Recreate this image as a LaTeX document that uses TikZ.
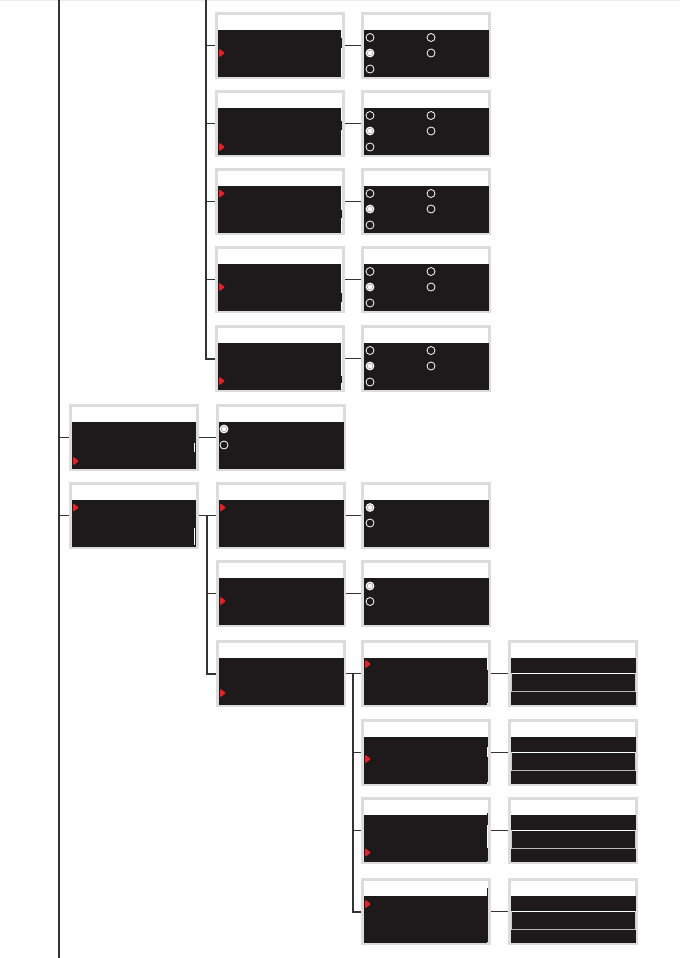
\documentclass[tikz,border=0pt]{standalone}
\definecolor{dk}{HTML}{1E1A1B}
\definecolor{fr}{HTML}{DCDCDC}
\definecolor{ln}{HTML}{333333}
\definecolor{mkred}{HTML}{E3212B}
\definecolor{topline}{HTML}{EBEBEB}
\tikzset{
  framebox/.style={rectangle, draw=fr, fill=white, line width=3pt, minimum height=64pt, inner sep=0pt, outer sep=1.5pt},
  conn/.style={draw=ln, line width=1.8pt},
  trunk/.style={draw=ln, line width=2pt},
  radio/.style={draw=white, line width=0.8pt},
  scroll/.style={draw=white, line width=1.2pt},
  sgapA/.style={draw=dk, line width=1.4pt},
  sgapE/.style={draw=dk, line width=1.2pt},
}
% #1 width, #2 name, #3 left, #4 top
\newcommand\menubox[4][130]{%
  \node[framebox, minimum width=#1pt-3pt] (#2) at (#3+#1/2, #4+33.5) {};
  \fill[dk] (#3+3,#4+18) rectangle (#3+#1-2.5,#4+64.5);
}
% box with a scroll column: #1 name, #2 left, #3 top, #4 right end of dark fill (offset)
\newcommand\scrollbox[4]{%
  \node[framebox, minimum width=127pt] (#1) at (#2+65, #3+33.5) {};
  \fill[dk] (#2+3,#3+18) rectangle (#2+#4,#3+64.5);
}
% marker at left x, center y
\newcommand\mkr[2]{%
  \fill[mkred, rounded corners=1.2pt] (#1+4,#2-4.5) -- (#1+10,#2) -- (#1+4,#2+4.5) -- cycle;
}
\newcommand\radopen[2]{\draw[radio] (#1,#2) circle (4pt);}
\newcommand\radsel[2]{\fill[white] (#1,#2) circle (4.4pt); \draw[gray!75, line width=0.6pt] (#1,#2) circle (2.8pt);}
% five-radio box contents, #1 left, #2 top
\newcommand\fiveradio[2]{%
  \radopen{#1+9}{#2+25.5}\radopen{#1+70}{#2+25.5}
  \radsel{#1+9}{#2+41}\radopen{#1+70}{#2+41}
  \radopen{#1+9}{#2+57}
}
% bars box contents, #1 left, #2 top
\newcommand\bars[2]{%
  \draw[white, line width=0.9pt] (#1+3,#2+33) -- (#1+127.5,#2+33);
  \draw[gray!55, line width=0.9pt] (#1+3.5,#2+51.5) -- (#1+127,#2+51.5);
  \draw[gray!40, line width=0.7pt] (#1+3.5,#2+33) -- (#1+3.5,#2+51.5);
  \draw[gray!40, line width=0.7pt] (#1+127,#2+33) -- (#1+127,#2+51.5);
}
\begin{document}
\begin{tikzpicture}[x=1pt,y=-1pt]
\useasboundingbox (0,0) rectangle (680,958);
\fill[topline] (0,0) rectangle (680,1.5);

% ---- column A / B (top stack)
\scrollbox{A1}{215}{12}{126}   \mkr{215}{53}
\draw[sgapA] (341.6,38) -- (341.6,48);
\scrollbox{A2}{215}{90}{126}   \mkr{215}{147}
\draw[sgapA] (341.6,120.5) -- (341.6,130);
\scrollbox{A3}{215}{168}{126}  \mkr{215}{193.5}
\draw[sgapA] (341.6,210) -- (341.6,218);
\scrollbox{A4}{215}{246}{126}  \mkr{215}{287}
\draw[sgapA] (341.6,293) -- (341.6,302);
\scrollbox{A5}{215}{325}{126}  \mkr{215}{381}
\draw[sgapA] (341.6,376) -- (341.6,383);

\menubox{B1}{361}{12}   \fiveradio{361}{12}
\menubox{B2}{361}{90}   \fiveradio{361}{90}
\menubox{B3}{361}{168}  \fiveradio{361}{168}
\menubox{B4}{361}{246}  \fiveradio{361}{246}
\menubox{B5}{361}{325}  \fiveradio{361}{325}

% ---- left column
\menubox[129.5]{L1}{69}{404} \mkr{69}{461}
\draw[scroll] (194.5,443) -- (194.5,452);
\menubox[129.5]{L2}{69}{482} \mkr{69}{507.5}
\draw[scroll] (194.5,528) -- (194.5,545);

\menubox{R1}{216}{404}
\radsel{224}{429}\radopen{224}{445}

% ---- column C / D
\menubox{C1}{216}{482} \mkr{216}{507.5}
\menubox{C2}{216}{560} \mkr{216}{601}
\menubox{C3}{216}{640} \mkr{216}{693}

\menubox{D1}{361}{482} \radsel{370}{507.5}\radopen{370}{523}
\menubox{D2}{361}{560} \radsel{370}{586}\radopen{370}{601.5}

% ---- column E / F
\scrollbox{E1}{361}{640}{125.7} \mkr{361}{664}
\draw[sgapE] (487.8,670) -- (487.8,703);
\scrollbox{E2}{361}{719}{125.7} \mkr{361}{759}
\draw[sgapE] (487.8,737) -- (487.8,747); \draw[sgapE] (487.8,757) -- (487.8,782);
\scrollbox{E3}{361}{797}{125.7} \mkr{361}{852.5}
\draw[sgapE] (487.8,813) -- (487.8,825); \draw[sgapE] (487.8,848) -- (487.8,861);
\scrollbox{E4}{361}{878}{125.7} \mkr{361}{904}
\draw[sgapE] (487.8,888) -- (487.8,942);

\menubox{F1}{508}{640} \bars{508}{640}
\menubox{F2}{508}{719} \bars{508}{719}
\menubox{F3}{508}{797} \bars{508}{797}
\menubox{F4}{508}{878} \bars{508}{878}

% ---- connectors
\coordinate (mtop) at (59,0);
\coordinate (mbot) at (59,958);
\draw[trunk] (mtop) -- (mbot);
\draw[conn] (mtop |- L1.west) -- (L1.west);
\draw[conn] (mtop |- L2.west) -- (L2.west);

\coordinate (atop) at (205.5,0);
\draw[trunk] (atop) |- (A5.west);
\foreach \i in {1,2,3,4}{\draw[conn] (atop |- A\i.west) -- (A\i.west);}
\foreach \i in {1,2,3,4,5}{\draw[conn] (A\i.east) -- (B\i.west);}

\draw[conn] (L1.east) -- (R1.west);
\draw[conn] (L2.east) -- (C1.west);
\coordinate (cx) at (207,0);
\draw[trunk] (cx |- C1.west) |- (C3.west);
\draw[conn] (cx |- C2.west) -- (C2.west);
\draw[conn] (C1.east) -- (D1.west);
\draw[conn] (C2.east) -- (D2.west);

\draw[conn] (C3.east) -- (E1.west);
\coordinate (ex) at (353,0);
\draw[trunk] (ex |- E1.west) |- (E4.west);
\draw[conn] (ex |- E2.west) -- (E2.west);
\draw[conn] (ex |- E3.west) -- (E3.west);
\foreach \i in {1,2,3,4}{\draw[conn] (E\i.east) -- (F\i.west);}
\end{tikzpicture}
\end{document}
